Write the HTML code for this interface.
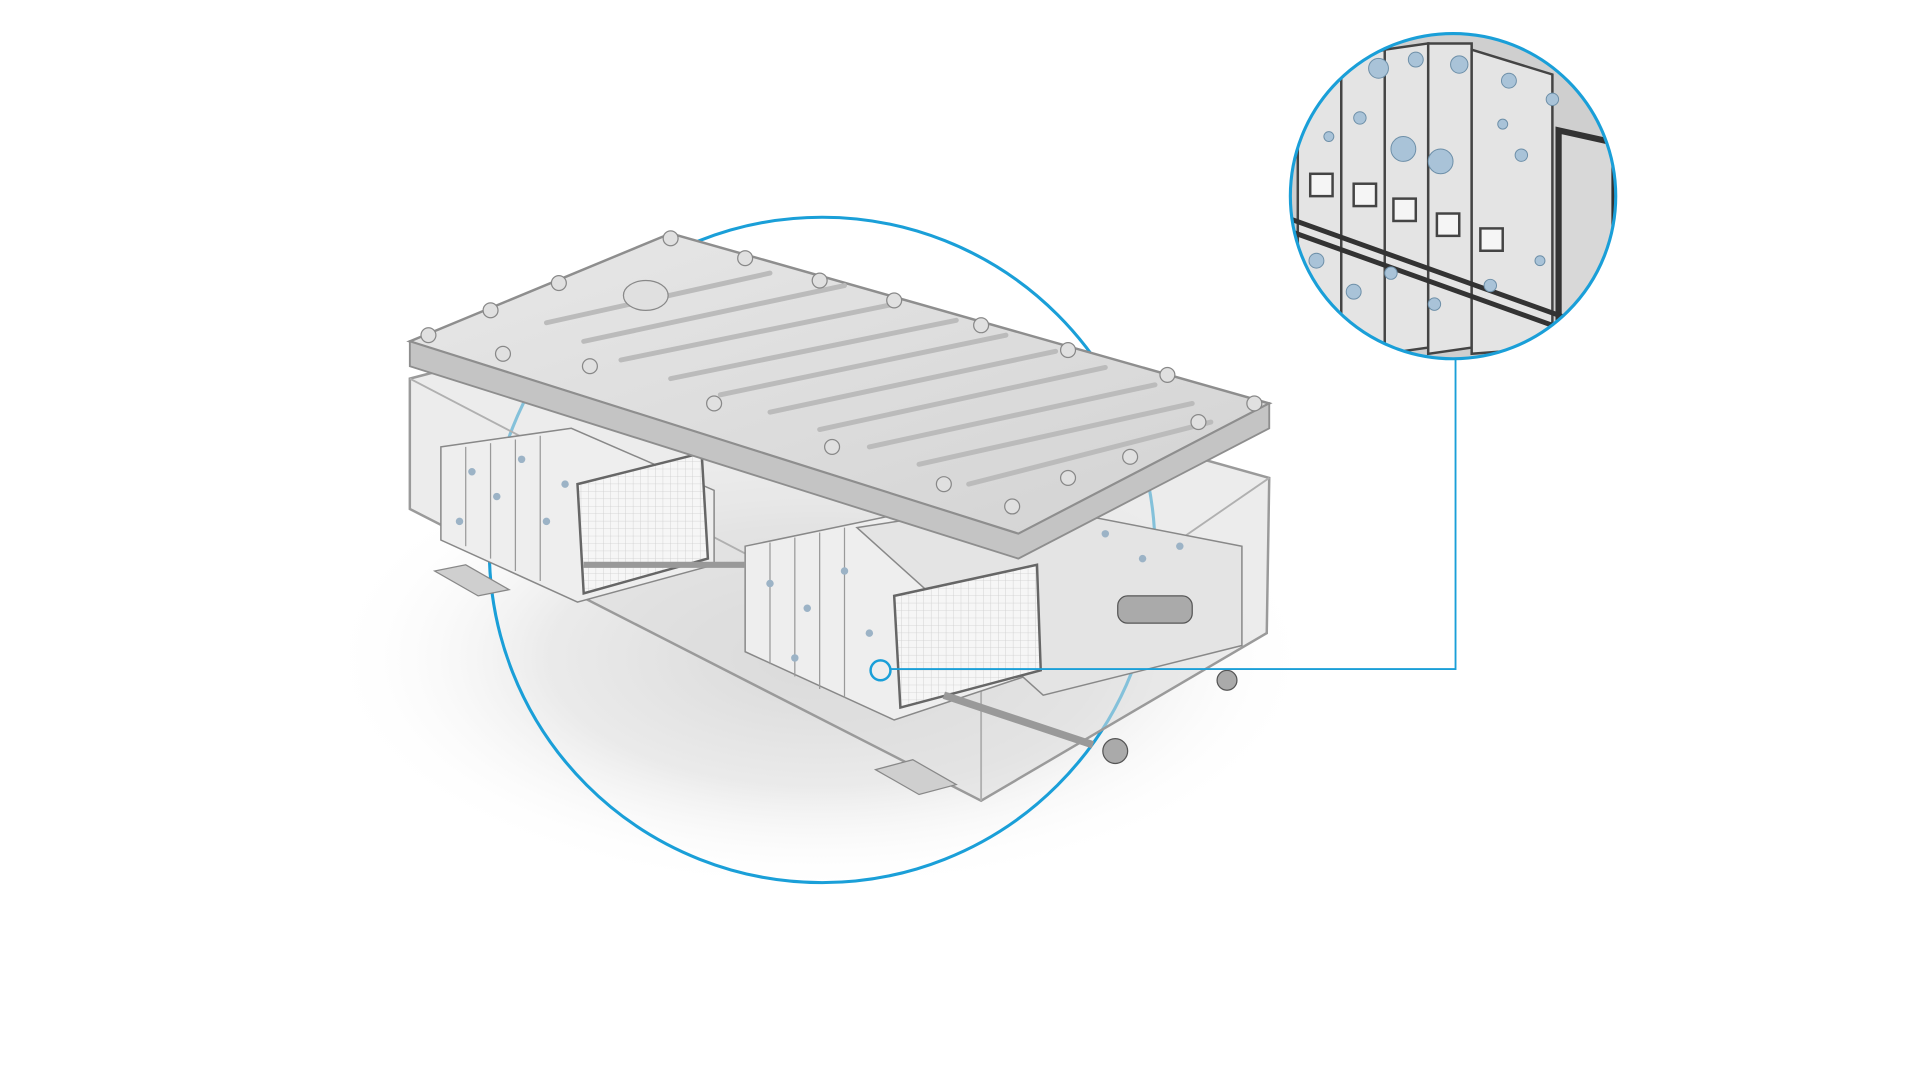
<!DOCTYPE html>
<html><head><meta charset="utf-8"><style>
html,body{margin:0;padding:0;background:#fff;width:1920px;height:1080px;overflow:hidden}
svg{display:block}
</style></head><body>
<svg width="1920" height="1080" viewBox="0 0 1546 870" preserveAspectRatio="none" xmlns="http://www.w3.org/2000/svg">
<defs>
<radialGradient id="sh" cx="0.5" cy="0.5" r="0.5">
<stop offset="0" stop-color="#c8c8c8"/><stop offset="0.55" stop-color="#e2e2e2"/><stop offset="1" stop-color="#fff" stop-opacity="0"/>
</radialGradient>
<linearGradient id="lid" x1="0" y1="0" x2="1" y2="1">
<stop offset="0" stop-color="#e8e8e8"/><stop offset="1" stop-color="#d2d2d2"/>
</linearGradient>
<pattern id="grid" width="6" height="6" patternUnits="userSpaceOnUse"><rect width="6" height="6" fill="#f6f6f6"/><path d="M6 0V6H0" fill="none" stroke="#cfcfcf" stroke-width="0.7"/></pattern>
<clipPath id="zc"><circle cx="1170" cy="158" r="131"/></clipPath>
</defs>
<ellipse cx="660" cy="530" rx="400" ry="190" fill="url(#sh)" opacity="0.7"/>
<circle cx="662" cy="443" r="268" fill="none" stroke="#1a9fd8" stroke-width="2.5"/>
<!-- body -->
<path d="M330 305 L540 250 L1022 385 L1020 510 L790 645 L330 410 Z" fill="#dcdcdc" fill-opacity="0.55" stroke="#9a9a9a" stroke-width="2"/>
<path d="M330 305 L790 545 L1022 385 M790 545 L790 645" fill="none" stroke="#b0b0b0" stroke-width="1.5"/>
<path d="M350 460 L375 455 L410 475 L385 480 Z" fill="#cfcfcf" stroke="#888"/>
<path d="M705 620 L735 612 L770 632 L740 640 Z" fill="#cfcfcf" stroke="#888"/>
<g fill="#eeeeee" stroke="#888" stroke-width="1.2">
<path d="M355 360 L460 345 L575 395 L575 455 L465 485 L355 435 Z"/>
<path d="M600 440 L720 415 L840 470 L840 540 L720 580 L600 525 Z"/>
<path d="M690 425 L820 405 L1000 440 L1000 520 L840 560 Z" fill="#e4e4e4"/>
</g>
<path d="M465 390 L565 365 L570 450 L470 478 Z" fill="url(#grid)" stroke="#666" stroke-width="2"/>
<path d="M720 480 L835 455 L838 540 L725 570 Z" fill="url(#grid)" stroke="#666" stroke-width="2"/>
<g stroke="#999" stroke-width="1"><line x1="375" y1="360" x2="375" y2="440"/><line x1="395" y1="357" x2="395" y2="450"/><line x1="415" y1="354" x2="415" y2="460"/><line x1="435" y1="351" x2="435" y2="468"/><line x1="620" y1="437" x2="620" y2="535"/><line x1="640" y1="433" x2="640" y2="545"/><line x1="660" y1="429" x2="660" y2="555"/><line x1="680" y1="425" x2="680" y2="562"/></g>
<g fill="#9cb3c6">
<circle cx="380" cy="380" r="3"/><circle cx="400" cy="400" r="3"/><circle cx="420" cy="370" r="3"/><circle cx="440" cy="420" r="3"/><circle cx="370" cy="420" r="3"/><circle cx="455" cy="390" r="3"/>
<circle cx="620" cy="470" r="3"/><circle cx="650" cy="490" r="3"/><circle cx="680" cy="460" r="3"/><circle cx="700" cy="510" r="3"/><circle cx="640" cy="530" r="3"/><circle cx="890" cy="430" r="3"/><circle cx="920" cy="450" r="3"/><circle cx="950" cy="440" r="3"/>
</g>
<line x1="470" y1="455" x2="600" y2="455" stroke="#999" stroke-width="5"/>
<line x1="760" y1="560" x2="880" y2="600" stroke="#999" stroke-width="6"/>
<g fill="#aaa" stroke="#555"><rect x="900" y="480" width="60" height="22" rx="8"/><circle cx="988" cy="548" r="8"/><circle cx="898" cy="605" r="10"/></g>
<!-- lid -->
<path d="M330 275 L540 188 L1022 325 L820 430 Z" fill="url(#lid)" stroke="#8e8e8e" stroke-width="2"/>
<path d="M330 275 L330 295 L820 450 L1022 345 L1022 325 L820 430 Z" fill="#c4c4c4" stroke="#8e8e8e" stroke-width="1.5"/>
<g stroke="#bbb" stroke-width="4" stroke-linecap="round">
<line x1="440" y1="260" x2="620" y2="220"/><line x1="470" y1="275" x2="680" y2="230"/><line x1="500" y1="290" x2="720" y2="245"/>
<line x1="540" y1="305" x2="770" y2="258"/><line x1="580" y1="318" x2="810" y2="270"/><line x1="620" y1="332" x2="850" y2="283"/>
<line x1="660" y1="346" x2="890" y2="296"/><line x1="700" y1="360" x2="930" y2="310"/><line x1="740" y1="374" x2="960" y2="325"/><line x1="780" y1="390" x2="975" y2="340"/>
</g>
<g fill="#e0e0e0" stroke="#888">
<circle cx="345" cy="270" r="6"/><circle cx="395" cy="250" r="6"/><circle cx="450" cy="228" r="6"/><circle cx="540" cy="192" r="6"/><circle cx="600" cy="208" r="6"/><circle cx="660" cy="226" r="6"/><circle cx="720" cy="242" r="6"/><circle cx="790" cy="262" r="6"/><circle cx="860" cy="282" r="6"/><circle cx="940" cy="302" r="6"/><circle cx="1010" cy="325" r="6"/><circle cx="965" cy="340" r="6"/><circle cx="910" cy="368" r="6"/><circle cx="860" cy="385" r="6"/><circle cx="815" cy="408" r="6"/><circle cx="760" cy="390" r="6"/><circle cx="670" cy="360" r="6"/><circle cx="575" cy="325" r="6"/><circle cx="475" cy="295" r="6"/><circle cx="405" cy="285" r="6"/>
<ellipse cx="520" cy="238" rx="18" ry="12"/>
</g>
<circle cx="709" cy="540" r="8" fill="none" stroke="#1a9fd8" stroke-width="2"/>
<polyline points="717,539 1172,539 1172,290" fill="none" stroke="#1a9fd8" stroke-width="1.5"/>
<g clip-path="url(#zc)">
<rect x="1030" y="20" width="280" height="280" fill="#cfcfcf"/>
<g fill="#e4e4e4" stroke="#444" stroke-width="2">
<path d="M1045 60 L1080 50 L1080 280 L1045 290 Z"/><path d="M1080 50 L1115 40 L1115 280 L1080 285 Z"/>
<path d="M1115 40 L1150 35 L1150 280 L1115 285 Z"/><path d="M1150 35 L1185 35 L1185 280 L1150 285 Z"/>
<path d="M1185 40 L1250 60 L1250 280 L1185 285 Z"/>
</g>
<path d="M1255 105 L1300 115 L1300 300 L1255 300 Z" fill="#d8d8d8" stroke="#333" stroke-width="5"/>
<path d="M1035 175 L1300 270 M1035 185 L1300 280" stroke="#333" stroke-width="4"/>
<g fill="#f5f5f5" stroke="#444" stroke-width="2"><rect x="1055" y="140" width="18" height="18"/><rect x="1090" y="148" width="18" height="18"/><rect x="1122" y="160" width="18" height="18"/><rect x="1157" y="172" width="18" height="18"/><rect x="1192" y="184" width="18" height="18"/></g>
<g fill="#a9c3d8" stroke="#6d8fa8" stroke-width="0.8">
<circle cx="1110" cy="55" r="8"/><circle cx="1140" cy="48" r="6"/><circle cx="1175" cy="52" r="7"/><circle cx="1215" cy="65" r="6"/><circle cx="1250" cy="80" r="5"/><circle cx="1095" cy="95" r="5"/><circle cx="1130" cy="120" r="10"/><circle cx="1160" cy="130" r="10"/><circle cx="1225" cy="125" r="5"/><circle cx="1060" cy="210" r="6"/><circle cx="1090" cy="235" r="6"/><circle cx="1120" cy="220" r="5"/><circle cx="1155" cy="245" r="5"/><circle cx="1200" cy="230" r="5"/><circle cx="1240" cy="210" r="4"/><circle cx="1070" cy="110" r="4"/><circle cx="1210" cy="100" r="4"/>
</g>
</g>
<circle cx="1170" cy="158" r="131" fill="none" stroke="#1a9fd8" stroke-width="2.5"/>
</svg>
</body></html>
